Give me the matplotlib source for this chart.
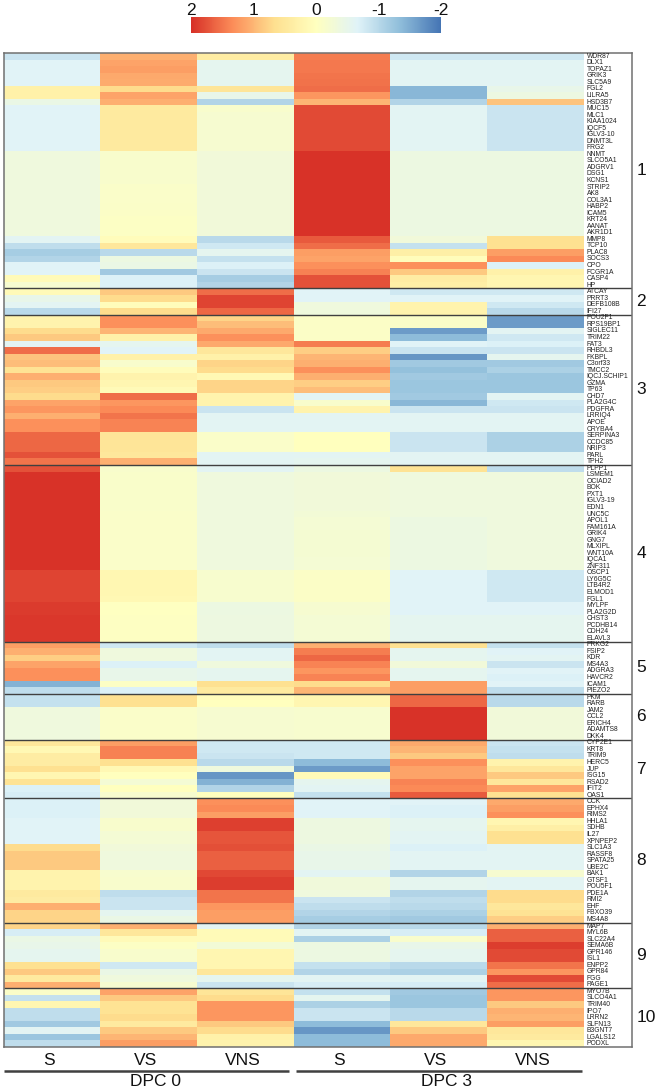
import numpy as np
import matplotlib
matplotlib.use("Agg")
import matplotlib.pyplot as plt
from matplotlib.colors import LinearSegmentedColormap

plt.rcParams['font.family'] = ['Liberation Sans', 'DejaVu Sans']

W, H = 656, 1089

# column order: DPC0 S, VS, VNS, DPC3 S, VS, VNS
COLUMNS = ["S", "VS", "VNS", "S", "VS", "VNS"]
DPC_LABELS = ["DPC 0", "DPC 3"]
PALETTE = ["#4575b4", "#91bfdb", "#e0f3f8", "#ffffbf", "#fee090", "#fc8d59", "#d73027"]
BAR_TICKS = [2, 1, 0, -1, -2]
BAR_LABELS = ["2", "1", "0", "-1", "-2"]

genes_1 = ["WDR87", "DLX1", "TOPAZ1", "GRIK3", "SLC5A9", "FGL2", "LILRA5", "HSD3B7", "MUC15", "MLC1",
           "KIAA1024", "IQCF5", "IGLV3-10", "DNMT3L", "FRG2", "NNMT", "SLCO5A1", "ADGRV1", "DSG1",
           "KCNS1", "STRIP2", "AK8", "COL3A1", "HABP2", "ICAM5", "KRT24", "AANAT", "AKR1D1", "MMP8",
           "TCP10", "PLAC8", "SOCS3", "CPO", "FCGR1A", "CASP4", "HP"]
values_1 = [
    [-.85, 1.05, .4, 1.45, -.8, -.8],
    [-.65, 1.15, -.55, 1.48, -.6, -.6],
    [-.65, 1.2, -.55, 1.48, -.6, -.6],
    [-.65, 1.1, -.55, 1.5, -.6, -.6],
    [-.65, 1.08, -.55, 1.52, -.6, -.6],
    [.3, .7, .55, 1.55, -1.4, -.5],
    [.3, 1.15, -.5, 1.25, -1.4, -.4],
    [-.45, 1.05, -1.05, 1.0, -1.05, .9],
    [-.65, .45, -.15, 1.8, -.6, -.85],
    [-.65, .45, -.2, 1.8, -.6, -.85],
    [-.65, .45, -.2, 1.8, -.6, -.85],
    [-.65, .45, -.2, 1.8, -.6, -.85],
    [-.65, .45, -.2, 1.8, -.6, -.85],
    [-.65, .45, -.2, 1.8, -.6, -.85],
    [-.65, .45, -.2, 1.8, -.6, -.85],
    [-.35, -.15, -.3, 1.98, -.4, -.4],
    [-.35, -.15, -.3, 1.98, -.4, -.4],
    [-.35, -.15, -.3, 1.98, -.4, -.4],
    [-.35, -.15, -.3, 1.98, -.4, -.4],
    [-.35, -.15, -.3, 1.98, -.4, -.4],
    [-.35, -.12, -.3, 1.98, -.4, -.4],
    [-.35, -.12, -.3, 1.98, -.4, -.4],
    [-.35, -.12, -.3, 1.98, -.4, -.4],
    [-.35, -.1, -.3, 1.98, -.4, -.4],
    [-.35, -.08, -.3, 1.98, -.4, -.4],
    [-.35, -.06, -.3, 1.98, -.4, -.4],
    [-.35, -.05, -.3, 1.98, -.4, -.4],
    [-.35, -.05, -.3, 1.98, -.4, -.4],
    [-.6, .05, -1.0, 1.7, -.3, .65],
    [-.95, .5, -.8, 1.55, -.9, .65],
    [-1.15, -1.0, -.55, 1.2, .35, 1.2],
    [-1.05, -.4, -.9, 1.15, .05, 1.35],
    [-.65, -.45, -.7, 1.3, 1.3, -.7],
    [-.65, -1.2, -.85, 1.42, .85, .3],
    [.1, -.7, -1.15, 1.75, .4, .2],
    [-.2, -.7, -1.05, 1.75, .35, .2],
]

genes_2 = ["ATCAY", "PRRT3", "DEFB108B", "IFI27"]
values_2 = [
    [.1, .85, 1.55, -.65, -.8, -.8],
    [-.5, .7, 1.85, -.65, -.65, -.65],
    [-.6, .05, 1.85, -.35, .25, -.8],
    [-1.0, .7, 1.6, -.35, .25, -1.0],
]

genes_3 = ["POU2F1", "RPS19BP1", "SIGLEC11", "TRIM22", "FAT3", "RHBDL3", "FKBPL", "C3orf33", "TMCC2",
           "IQCJ.SCHIP1", "GZMA", "TP63", "CHD7", "PLA2G4C", "PDGFRA", "LRRIQ4", "APOE", "CRYBA4",
           "SERPINA3", "CCDC85", "NRIP3", "PARL", "TPH2"]
values_3 = [
    [.25, 1.3, .75, -.08, -.1, -1.65],
    [.25, 1.3, .95, -.08, -.1, -1.65],
    [.7, 1.0, 1.1, -.08, -1.65, -.6],
    [.85, .3, 1.3, -.08, -1.35, -.8],
    [-.6, -.55, 1.1, 1.45, -.65, -.7],
    [1.55, -.65, .5, .8, -.85, -.85],
    [.9, .3, .3, 1.0, -1.7, -.55],
    [.95, -.15, .75, 1.05, -1.2, -1.2],
    [.6, .05, .7, 1.3, -1.3, -1.1],
    [1.05, .25, .15, 1.05, -1.2, -1.25],
    [.85, .2, .75, .8, -1.25, -1.25],
    [.8, .1, .75, .95, -1.25, -1.25],
    [.7, 1.55, .25, -.6, -1.2, -.6],
    [1.15, 1.25, .25, -.15, -1.4, -.8],
    [1.25, 1.35, -.85, .25, -.85, -.85],
    [1.05, 1.5, -.6, -.6, -.6, -.6],
    [1.3, 1.4, -.6, -.6, -.6, -.6],
    [1.3, 1.4, -.6, -.6, -.6, -.6],
    [1.6, .55, -.12, .0, -.85, -1.1],
    [1.6, .55, -.12, .0, -.85, -1.1],
    [1.6, .55, -.12, .0, -.85, -1.1],
    [1.75, .5, -.6, -.6, -.6, -.6],
    [1.5, 1.05, -.6, -.55, -.6, -.6],
]

genes_4 = ["PLPP1", "LSMEM1", "OCIAD2", "BOK", "PXT1", "IGLV3-19", "EDN1", "UNC5C", "APOL1", "FAM161A",
           "GRIK4", "GNG7", "MLXIPL", "WNT10A", "IQCA1", "ZNF311", "OSCP1", "LY6G5C", "LTB4R2", "ELMOD1",
           "FGL1", "MYLPF", "PLA2G2D", "CHST3", "PCDHB14", "CDH24", "ELAVL3"]
values_4 = [
    [1.75, -.15, -.6, -.4, .6, -.95],
    [1.97, -.13, -.35, -.3, -.35, -.35],
    [1.97, -.13, -.35, -.3, -.35, -.35],
    [1.97, -.13, -.35, -.3, -.35, -.35],
    [1.97, -.13, -.35, -.3, -.35, -.35],
    [1.97, -.13, -.35, -.3, -.35, -.35],
    [1.97, -.13, -.35, -.3, -.35, -.35],
    [1.97, -.12, -.35, -.28, -.35, -.35],
    [1.97, -.12, -.35, -.25, -.4, -.35],
    [1.97, -.12, -.35, -.25, -.4, -.35],
    [1.97, -.12, -.35, -.22, -.4, -.35],
    [1.97, -.12, -.35, -.22, -.4, -.35],
    [1.97, -.12, -.35, -.22, -.4, -.35],
    [1.97, -.12, -.35, -.22, -.4, -.35],
    [1.97, -.12, -.35, -.25, -.4, -.35],
    [1.97, -.12, -.35, -.25, -.4, -.35],
    [1.85, .18, -.18, -.08, -.65, -.8],
    [1.85, .18, -.18, -.08, -.65, -.8],
    [1.85, .18, -.18, -.08, -.65, -.8],
    [1.85, .18, -.18, -.08, -.65, -.8],
    [1.85, .15, -.18, -.08, -.65, -.8],
    [1.92, -.02, -.4, -.2, -.65, -.65],
    [1.92, -.02, -.4, -.2, -.65, -.65],
    [1.95, -.04, -.38, -.25, -.55, -.55],
    [1.95, -.04, -.38, -.25, -.55, -.55],
    [1.95, -.04, -.38, -.25, -.55, -.55],
    [1.95, -.04, -.38, -.25, -.55, -.55],
]

genes_5 = ["PRKG2", "FSIP2", "KDR", "MS4A3", "ADGRA3", "HAVCR2", "ICAM1", "PIEZO2"]
values_5 = [
    [1.2, -.8, -.95, 1.05, .65, -.9],
    [1.05, -.35, -.6, 1.45, -.55, -.65],
    [.8, -.35, -.6, 1.6, -.55, -.6],
    [1.15, -.7, -.35, 1.4, -.3, -.85],
    [1.3, -.5, -.55, 1.25, -.55, -.65],
    [1.3, -.5, -.55, 1.4, -.55, -.7],
    [-1.45, -.05, .65, .7, 1.2, -.65],
    [-.95, -.7, .45, 1.0, 1.2, -.95],
]

genes_6 = ["PKM", "RARB", "JAM2", "CCL2", "ERICH4", "ADAMTS8", "DKK4"]
values_6 = [
    [-.9, .65, .05, .2, 1.6, -1.0],
    [-.9, .65, .0, .2, 1.6, -1.0],
    [-.35, -.12, -.2, -.18, 1.97, -.3],
    [-.35, -.12, -.2, -.18, 1.97, -.3],
    [-.35, -.12, -.2, -.18, 1.97, -.3],
    [-.35, -.12, -.2, -.18, 1.97, -.3],
    [-.35, -.12, -.2, -.18, 1.97, -.3],
]

genes_7 = ["CYP2E1", "KRT8", "TRIM9", "HERC5", "JUP", "ISG15", "RSAD2", "IFIT2", "OAS1"]
values_7 = [
    [.5, 1.2, -.8, -.8, 1.1, -.85],
    [.15, 1.42, -.8, -.8, 1.0, -.9],
    [.4, 1.42, -.85, -.8, .85, -.95],
    [.4, .65, -1.0, -1.35, 1.3, .25],
    [.65, .15, -.35, -1.65, 1.15, .5],
    [.2, .0, -1.7, .1, 1.15, .85],
    [.6, -.25, -1.45, -.55, 1.4, .5],
    [-.7, .0, -1.05, -.6, 1.35, 1.15],
    [-.75, -.18, .0, -.9, 1.7, .65],
]

genes_8 = ["CCK", "EPHX4", "RIMS2", "HHLA1", "SDHB", "IL27", "XPNPEP2", "SLC1A3", "RASSF8", "SPATA25",
           "UBE2C", "BAK1", "GTSF1", "POU5F1", "PDE1A", "RMI2", "EHF", "FBXO39", "MS4A8"]
values_8 = [
    [-.7, -.3, 1.3, -.65, -.65, 1.1],
    [-.7, -.3, 1.35, -.65, -.7, 1.2],
    [-.7, -.3, 1.2, -.65, -.7, 1.3],
    [-.65, -.15, 1.88, -.38, -.55, .2],
    [-.65, -.15, 1.88, -.38, -.55, .35],
    [-.65, -.25, 1.72, -.38, -.6, .65],
    [-.65, -.25, 1.72, -.38, -.6, .65],
    [.7, -.3, 1.78, -.45, -.7, -.6],
    [.85, -.35, 1.65, -.5, -.6, -.6],
    [.85, -.35, 1.65, -.5, -.6, -.6],
    [.85, -.35, 1.65, -.5, -.6, -.6],
    [.25, -.18, 1.82, -.6, -1.05, -.2],
    [.25, -.15, 1.9, -.32, -.55, -.6],
    [.25, -.15, 1.9, -.32, -.55, -.6],
    [.45, -.95, 1.5, -.35, -1.05, .7],
    [.4, -.85, 1.5, -.85, -.95, .7],
    [1.05, -.85, 1.25, -.95, -1.0, .5],
    [.75, -.55, 1.2, -1.05, -1.1, .6],
    [.75, -.45, 1.2, -1.15, -1.2, .8],
]

genes_9 = ["MAP7", "MYL6B", "SLC22A4", "SEMA6B", "GPR146", "ISL1", "ENPP2", "GPR84", "FGG", "PAGE1"]
values_9 = [
    [.75, 1.05, -.6, -1.05, -1.0, 1.05],
    [-.75, .5, .1, -.6, -.75, 1.65],
    [-.45, .1, .1, -1.1, -.15, 1.65],
    [-.5, -.05, -.28, -.4, -.5, 1.9],
    [-.55, -.15, .2, -.4, -.55, 1.8],
    [-.55, -.15, .2, -.4, -.55, 1.8],
    [.65, -.8, .2, -.9, -1.0, 1.5],
    [.85, -.45, .5, -1.05, -1.1, 1.25],
    [.45, -.35, -.55, -.6, -.6, 1.8],
    [1.05, -.2, -.85, -.75, -.75, 1.55],
]

genes_10 = ["MYO7B", "SLCO4A1", "TRIM40", "IPO7", "LRRN2", "SLFN13", "B3GNT7", "LGALS12", "PODXL"]
values_10 = [
    [-.1, 1.15, .55, -.9, -1.2, 1.25],
    [-.9, .85, .7, -.55, -1.25, 1.25],
    [.2, .6, 1.25, -1.1, -1.25, .85],
    [-.95, .6, 1.25, -.85, -1.0, 1.05],
    [-.95, .7, 1.25, -.85, -1.0, 1.0],
    [-1.2, .45, .85, -1.35, .5, 1.2],
    [-.6, .85, .7, -1.7, .85, .5],
    [-1.25, 1.0, .3, -1.35, 1.1, .45],
    [-.95, 1.2, .25, -1.35, 1.1, .2],
]

all_genes = [genes_1, genes_2, genes_3, genes_4, genes_5, genes_6, genes_7, genes_8, genes_9, genes_10]
all_values = [values_1, values_2, values_3, values_4, values_5, values_6, values_7, values_8, values_9, values_10]


def px_axes(fig, x0, y0, x1, y1):
    # axes from pixel box, y measured from the top
    return fig.add_axes([x0 / W, 1 - y1 / H, (x1 - x0) / W, (y1 - y0) / H])


def run():
    fig = plt.figure(figsize=(W / 100, H / 100), dpi=100)
    cmap = LinearSegmentedColormap.from_list("rdylbu7", PALETTE)

    genes = [g for group in all_genes for g in group]
    data = np.vstack(all_values)
    n_rows = len(genes)

    ax = px_axes(fig, 3.5, 53, 632, 1047)
    mesh = ax.pcolormesh(np.arange(7), np.arange(n_rows + 1), data, cmap=cmap, vmin=-2, vmax=2)
    ax.set_xlim(0, 6.5)
    ax.set_ylim(n_rows, 0)
    ax.set_xticks([])
    ax.set_yticks([])
    for s in ax.spines.values():
        s.set_color("#707070")
        s.set_linewidth(1.1)

    for i, g in enumerate(genes):
        ax.text(6.03, i + 0.5, g, fontsize=4.9, color="#222222", va="center", ha="left")

    # cluster separators and numbers
    start = 0
    for k, group in enumerate(all_genes):
        end = start + len(group)
        if end < n_rows:
            ax.plot([0, 6.5], [end, end], color="#404040", lw=1.0, solid_capstyle="butt")
        ax.text(6.545, (start + end) / 2, str(k + 1), fontsize=12.5, color="#111111",
                va="center", ha="left", clip_on=False)
        start = end

    # column labels and DPC rules below the heatmap
    for i, c in enumerate(COLUMNS):
        ax.text(i + 0.47, n_rows + 2.0, c, fontsize=12.5, color="#111111", ha="center", va="center", clip_on=False)
    rule_x = [(0, 2.95), (3.02, 5.98)]
    dpc_x = [1.57, 4.58]
    for d, (x0, x1), xc in zip(DPC_LABELS, rule_x, dpc_x):
        ax.plot([x0, x1], [n_rows + 3.65, n_rows + 3.65], color="#404040", lw=1.8, clip_on=False,
                solid_capstyle="butt")
        ax.text(xc, n_rows + 5.2, d, fontsize=12.5, color="#111111", ha="center", va="center", clip_on=False)

    # colour key
    cax = px_axes(fig, 191, 17, 441, 33)
    cb = fig.colorbar(mesh, cax=cax, orientation="horizontal")
    cb.outline.set_visible(False)
    cax.invert_xaxis()
    cax.xaxis.set_ticks_position("top")
    cax.set_xticks(BAR_TICKS)
    cax.set_xticklabels(BAR_LABELS, fontsize=12.5, color="#111111")
    cax.tick_params(axis="x", length=0, pad=-1)

    fig.savefig("out.png", dpi=100)


if __name__ == '__main__':
    run()
